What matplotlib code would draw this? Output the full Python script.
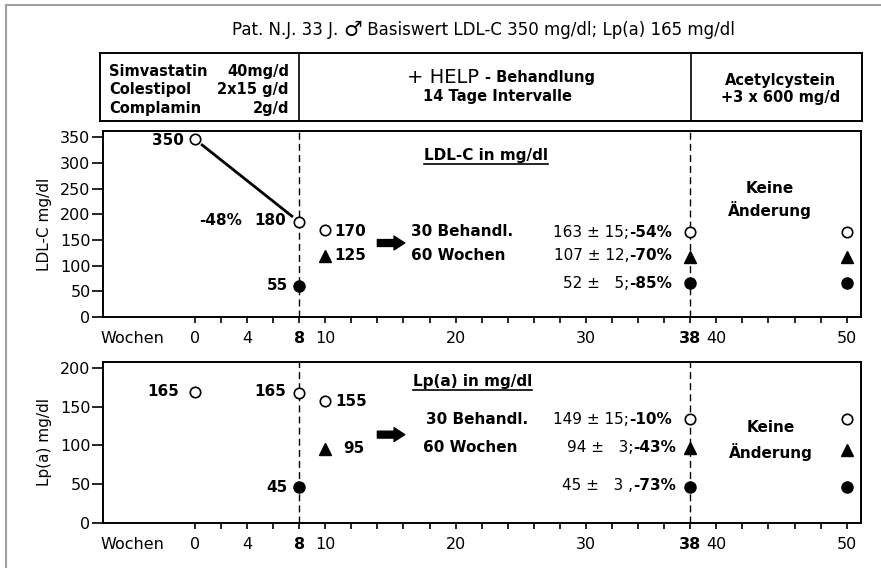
import matplotlib
matplotlib.use('Agg')
import matplotlib.pyplot as plt
from matplotlib.lines import Line2D
from matplotlib.text import Annotation

# ---- data ----
weeks_ticks = [0, 4, 8, 10, 20, 30, 38, 40, 50]
bold_weeks = [8, 38]

ldl_open_x = [0, 8, 10, 38, 50]
ldl_open_y = [346, 185, 169, 165, 165]
ldl_tri_x = [10, 38, 50]
ldl_tri_y = [119, 117, 117]
ldl_fill_x = [8, 38, 50]
ldl_fill_y = [61, 66, 66]

lpa_open_x = [0, 8, 10, 38, 50]
lpa_open_y = [169, 168, 158, 134, 134]
lpa_tri_x = [10, 38, 50]
lpa_tri_y = [96, 97, 94]
lpa_fill_x = [8, 38, 50]
lpa_fill_y = [46, 46, 46]

ldl_labels = [(-0.84, 343, '350', 'right'), (7.03, 187, '180', 'right'),
              (3.58, 187, '-48%', 'right'), (7.13, 61, '55', 'right'),
              (10.66, 167, '170', 'left'), (10.66, 120, '125', 'left'),
              (16.6, 166, '30 Behandl.', 'left'), (16.6, 119, '60 Wochen', 'left')]
ldl_results = [(36.6, 165, '163 \u00b1 15;', '-54%'), (36.6, 119, '107 \u00b1 12,', '-70%'),
               (36.6, 66, '52 \u00b1   5;', '-85%')]

lpa_labels = [(-1.23, 169, '165', 'right'), (7.03, 169, '165', 'right'),
              (7.1, 46, '45', 'right'), (10.74, 157, '155', 'left'),
              (11.4, 96, '95', 'left'),
              (17.7, 133, '30 Behandl.', 'left'), (17.5, 97, '60 Wochen', 'left')]
lpa_results = [(36.6, 133, '149 \u00b1 15;', '-10%'), (36.9, 97, '94 \u00b1   3;', '-43%'),
               (36.9, 48, '45 \u00b1   3 ,', '-73%')]

plt.rcParams['font.family'] = ['DejaVu Sans']
plt.rcParams['font.size'] = 11

fig = plt.figure(figsize=(8.81, 5.68), dpi=100)
W, H = 881.0, 568.0

# grey frame of the scan
fig.add_artist(Line2D([6 / W, 6 / W], [0, 1 - 5 / H], color='#a0a0a0', lw=1.5))
fig.add_artist(Line2D([6 / W, 1], [1 - 5 / H, 1 - 5 / H], color='#a0a0a0', lw=1.5))

# title, with a larger male sign
t1 = fig.text(232 / W, 1 - 30 / H, 'Pat. N.J. 33 J. ', ha='left', va='center', fontsize=12)
t2 = fig.add_artist(Annotation('\u2642', xy=(1, 0.5), xycoords=t1, ha='left', va='center',
                               fontsize=15))
fig.add_artist(Annotation(' Basiswert LDL-C 350 mg/dl; Lp(a) 165 mg/dl', xy=(1, 0.5),
                          xycoords=t2, ha='left', va='center', fontsize=12))

# ---- header box ----
hx = fig.add_axes([100 / W, 1 - 121 / H, 762 / W, 68 / H])
hx.set_xlim(-7.29, 51.15)
hx.set_ylim(0, 1)
hx.set_xticks([])
hx.set_yticks([])
for s in hx.spines.values():
    s.set_linewidth(1.4)
for w in bold_weeks:
    hx.axvline(w, color='black', lw=1.2)

rows = [('Simvastatin', '40mg/d', 0.735), ('Colestipol', '2x15 g/d', 0.47), ('Complamin', '2g/d', 0.19)]
for name, dose, y in rows:
    hx.text(-6.6, y, name, ha='left', va='center', fontweight='bold', fontsize=10.5)
    hx.text(7.2, y, dose, ha='right', va='center', fontweight='bold', fontsize=10.5)

hx.text(21.75, 0.647, '+ HELP', ha='right', va='center', fontsize=14)
hx.text(22.2, 0.647, '- Behandlung', ha='left', va='center', fontweight='bold', fontsize=10.5)
hx.text(23.2, 0.353, '14 Tage Intervalle', ha='center', va='center', fontweight='bold', fontsize=10.5)
hx.text(44.9, 0.60, 'Acetylcystein', ha='center', va='center', fontweight='bold', fontsize=10.5)
hx.text(44.9, 0.34, '+3 x 600 mg/d', ha='center', va='center', fontweight='bold', fontsize=10.5)


def setup(ax, ylim, yticks, ylabel, ycenter):
    ax.set_xlim(-7.05, 51.1)
    ax.set_ylim(*ylim)
    ax.set_yticks(yticks)
    ax.set_xticks(weeks_ticks)
    ax.set_xticklabels([str(w) for w in weeks_ticks])
    ax.set_xticks(range(0, 51, 2), minor=True)
    for lab, w in zip(ax.get_xticklabels(), weeks_ticks):
        if w in bold_weeks:
            lab.set_fontweight('bold')
    ax.tick_params(axis='x', which='both', direction='out', length=4.5, width=1.2, labelsize=11.5, pad=5.5)
    ax.tick_params(axis='y', direction='out', length=8, width=1.2, labelsize=11.5, pad=1)
    for s in ax.spines.values():
        s.set_linewidth(1.4)
    for w in bold_weeks:
        ax.axvline(w, color='black', lw=1.0, ls=(0, (5, 3)))
    ax.annotate('Wochen', xy=(-4.83, 0), xycoords=('data', 'axes fraction'),
                xytext=(0, -10), textcoords='offset points', ha='center', va='top', fontsize=11.5)
    fig.text(44 / W, ycenter, ylabel, rotation=90, ha='center', va='center', fontsize=11)


def markers(ax, ox, oy, tx, ty, fx, fy):
    ax.plot(ox, oy, 'o', ms=7.5, mfc='white', mec='black', mew=1.2, ls='none', zorder=5)
    ax.plot(tx, ty, '^', ms=8, color='black', ls='none', zorder=5)
    ax.plot(fx, fy, 'o', ms=8, color='black', ls='none', zorder=5)


def labels(ax, labs, results, title, title_xy, arrow_y):
    for x, y, s, ha in labs:
        ax.text(x, y, s, ha=ha, va='center', fontweight='bold', fontsize=11)
    for x, y, normal, bold in results:
        b = ax.text(x, y, bold, ha='right', va='center', fontweight='bold', fontsize=11)
        ax.annotate(normal, xy=(0, 0), xycoords=b, ha='right', va='bottom', fontsize=11)
    tt = ax.text(title_xy[0], title_xy[1], title, ha='left', va='center', fontweight='bold', fontsize=11)
    ax.annotate('', xy=(16.1, arrow_y), xytext=(14.0, arrow_y),
                arrowprops=dict(arrowstyle='simple,head_length=0.7,head_width=0.9,tail_width=0.45',
                                color='black', shrinkA=0, shrinkB=0), zorder=4)
    return tt


ax1 = fig.add_axes([103 / W, 1 - 317 / H, 758 / W, 186 / H])
setup(ax1, (0, 362), range(0, 351, 50), 'LDL-C mg/dl', 1 - 224 / H)
# connecting line, shortened so it stops short of the markers
x0, y0, x1, y1 = ldl_open_x[0], ldl_open_y[0], ldl_open_x[1], ldl_open_y[1]
ax1.plot([x0 + 0.07 * (x1 - x0), x0 + 0.93 * (x1 - x0)],
         [y0 + 0.07 * (y1 - y0), y0 + 0.93 * (y1 - y0)], color='black', lw=2)
markers(ax1, ldl_open_x, ldl_open_y, ldl_tri_x, ldl_tri_y, ldl_fill_x, ldl_fill_y)
tt1 = labels(ax1, ldl_labels, ldl_results, 'LDL-C in mg/dl', (17.6, 315), 144)
ax1.text(44.1, 251, 'Keine', ha='center', va='center', fontweight='bold', fontsize=11)
ax1.text(44.1, 208, '\u00c4nderung', ha='center', va='center', fontweight='bold', fontsize=11)

ax2 = fig.add_axes([103 / W, 1 - 523 / H, 758 / W, 161 / H])
setup(ax2, (0, 207.7), range(0, 201, 50), 'Lp(a) mg/dl', 1 - 442.5 / H)
markers(ax2, lpa_open_x, lpa_open_y, lpa_tri_x, lpa_tri_y, lpa_fill_x, lpa_fill_y)
tt2 = labels(ax2, lpa_labels, lpa_results, 'Lp(a) in mg/dl', (16.7, 183), 114)
ax2.text(44.2, 122.6, 'Keine', ha='center', va='center', fontweight='bold', fontsize=11)
ax2.text(44.2, 92, '\u00c4nderung', ha='center', va='center', fontweight='bold', fontsize=11)

# underline the panel titles
fig.canvas.draw()
r = fig.canvas.get_renderer()
for ax, tt in [(ax1, tt1), (ax2, tt2)]:
    bb = tt.get_window_extent(r)
    inv = ax.transData.inverted()
    (xa, ya), (xb, _) = inv.transform([(bb.x0, bb.y0 - 1), (bb.x1, bb.y0 - 1)])
    ax.plot([xa, xb], [ya, ya], color='black', lw=1.2)

fig.savefig('out.png', dpi=100)
